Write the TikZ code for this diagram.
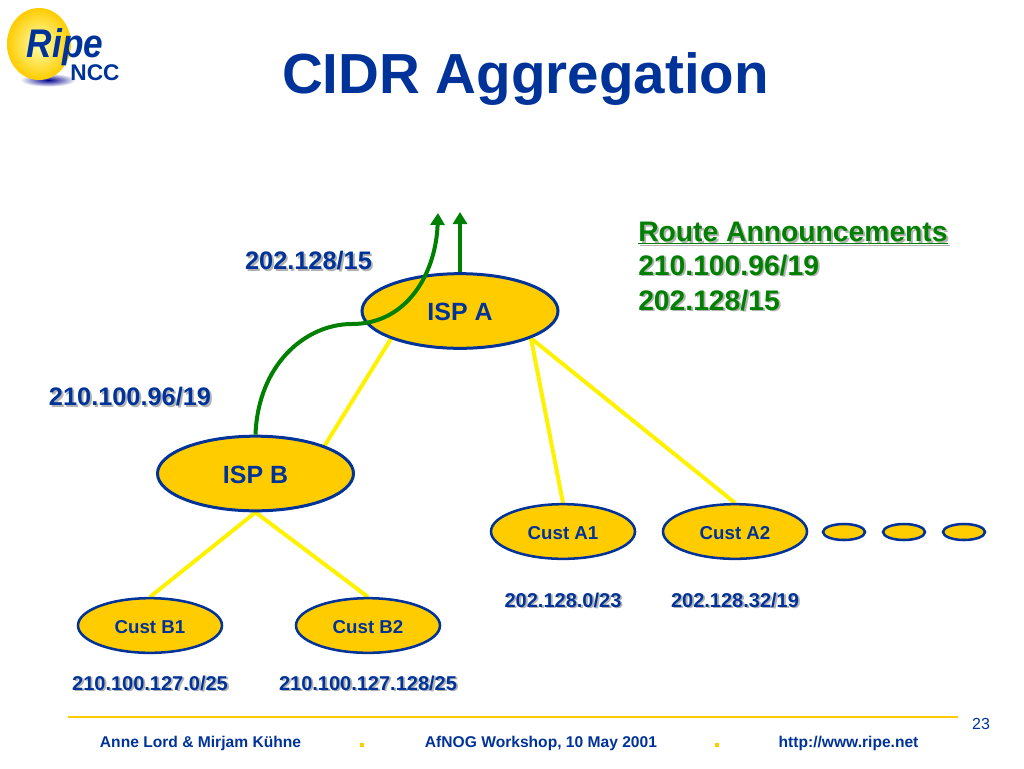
\documentclass[tikz,border=0pt]{standalone}
\usepackage{fontspec}
\setmainfont{Liberation Sans}
\usetikzlibrary{shapes,arrows.meta,backgrounds}
\definecolor{ripeblue}{RGB}{0,51,153}
\definecolor{ripegold}{RGB}{255,204,0}
\definecolor{routegreen}{RGB}{0,128,0}
\definecolor{shadowgray}{RGB}{178,178,178}
\newcommand{\shadowtxt}[1]{\leavevmode\rlap{\kern1.4pt\raisebox{-1.4pt}{\color{shadowgray}#1}}#1}
\tikzset{
	ispbox/.style={ellipse, draw=ripeblue, fill=ripegold, line width=2.25pt, inner sep=0pt, minimum width=147pt, minimum height=56pt, text height=14.5pt, text=ripeblue, font=\fontsize{18.7}{22}\selectfont\bfseries},
	custbox/.style={ellipse, draw=ripeblue, fill=ripegold, line width=1.9pt, inner sep=0pt, minimum width=108pt, minimum height=41pt, text height=11.5pt, text=ripeblue, font=\fontsize{14}{17}\selectfont\bfseries},
	morebox/.style={ellipse, draw=ripeblue, fill=ripegold, line width=1.9pt, inner sep=0pt, minimum width=31.5pt, minimum height=12pt},
	biglabel/.style={inner sep=0pt, text=ripeblue, font=\fontsize{19}{23}\selectfont\bfseries},
	addrlabel/.style={inner sep=0pt, text=ripeblue, font=\fontsize{15}{18}\selectfont\bfseries},
	routelabel/.style={inner sep=0pt, anchor=west, text=routegreen, font=\fontsize{21.2}{25}\selectfont\bfseries},
	footlabel/.style={inner sep=0pt, text=ripeblue, font=\fontsize{11.7}{14}\selectfont\bfseries},
	link/.style={yellow, line width=3pt},
	route/.style={routegreen, line width=3pt, -{Triangle[width=10.5pt,length=9pt]}},
	footdot/.style={fill=ripegold, inner sep=0pt, minimum width=3pt, minimum height=3.5pt}
}
\begin{document}
\begin{tikzpicture}[x=.75pt, y=-.75pt]
	\useasboundingbox (0,0) rectangle (1024,768);
	% logo
	\shade[inner color=blue!55!black, outer color=white] (48,80) ellipse (21pt and 5pt);
	\shade[inner color=yellow!30, outer color=ripegold] (39,44) ellipse (24pt and 27pt);
	\node[inner sep=0pt, text=ripeblue, xscale=.88, font=\fontsize{30}{30}\selectfont\bfseries\itshape] (logoripe) at (65,47) {Ripe};
	\node[inner sep=0pt, text=ripeblue, font=\fontsize{17}{17}\selectfont\bfseries] (logoncc) at (95,73) {NCC};
	% title
	\node[inner sep=0pt, text=ripeblue, font=\fontsize{42.4}{50}\selectfont\bfseries] (title) at (525.5,79) {CIDR Aggregation};
	% nodes
	\node[ispbox] (ispA) at (460,311) {ISP A};
	\node[ispbox] (ispB) at (255.5,473.5) {ISP B};
	\node[custbox] (custA1) at (563,531.5) {Cust A1};
	\node[custbox] (custA2) at (735,531.5) {Cust A2};
	\node[custbox] (custB1) at (150,625.5) {Cust B1};
	\node[custbox] (custB2) at (368,625.5) {Cust B2};
	\foreach \x/\name in {844/moreA, 904/moreB, 964/moreC}
		\node[morebox] (\name) at (\x,532) {};
	% links
	\begin{scope}[on background layer]
		\draw[link] (ispA.202) -- (ispB.22.4);
		\draw[link] (ispA.-21.5) -- (custA1.north);
		\draw[link] (ispA.-21.5) -- (custA2.north);
		\draw[link] (ispB.south) -- (custB1.north);
		\draw[link] (ispB.south) -- (custB2.north);
	\end{scope}
	% announcements
	\coordinate (upA) at (460,212);
	\coordinate (upB) at (438,213);
	\coordinate (bendB) at (352,324);
	\draw[route] (ispA.north) -- (upA);
	\draw[route] (ispB.north) .. controls (258,365) and (305,324) .. (bendB) .. controls (408,324) and (436,272) .. (upB);
	% labels
	\node[biglabel] (lblA) at (308.5,262) {\shadowtxt{202.128/15}};
	\node[biglabel] (lblB) at (130,398) {\shadowtxt{210.100.96/19}};
	\node[routelabel] (routeHead) at (638,234) {\shadowtxt{\underline{Route Announcements}}};
	\node[routelabel] (routeB) at (638,266) {\shadowtxt{210.100.96/19}};
	\node[routelabel] (routeA) at (638,301) {\shadowtxt{202.128/15}};
	\node[addrlabel] (addrA1) at (563,601) {\shadowtxt{202.128.0/23}};
	\node[addrlabel] (addrA2) at (735,601) {\shadowtxt{202.128.32/19}};
	\node[addrlabel] (addrB1) at (150,684) {\shadowtxt{210.100.127.0/25}};
	\node[addrlabel] (addrB2) at (368,684) {\shadowtxt{210.100.127.128/25}};
	% footer
	\coordinate (ruleL) at (68,717);
	\coordinate (ruleR) at (958,717);
	\draw[ripegold, line width=2.2pt] (ruleL) -- (ruleR);
	\node[footlabel] (footL) at (200.5,743) {Anne Lord \& Mirjam Kühne};
	\node[footlabel] (footM) at (541,743) {AfNOG Workshop, 10 May 2001};
	\node[footlabel] (footR) at (848.5,743) {http://www.ripe.net};
	\node[footdot] (dotL) at (362,745) {};
	\node[footdot] (dotR) at (717,745) {};
	\node[inner sep=0pt, text=ripeblue, font=\fontsize{12}{14}\selectfont] (pageno) at (981,724) {23};
\end{tikzpicture}
\end{document}
